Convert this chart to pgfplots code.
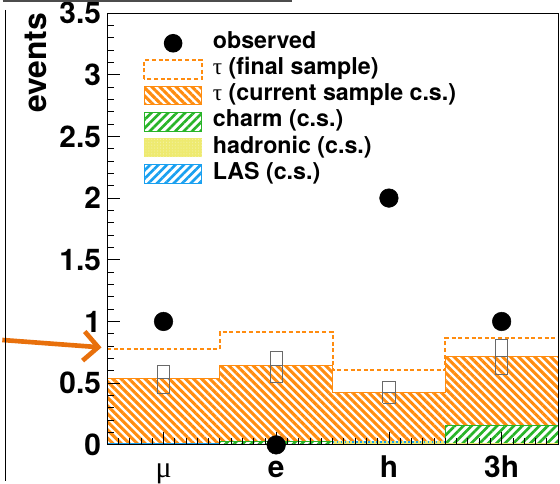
\documentclass[border=0pt]{standalone}
\usepackage{pgfplots}
\pgfplotsset{compat=1.18}
\usepackage{fontspec}
\setmainfont{TeX Gyre Heros}
\newfontfamily\greek{Liberation Serif}
\usetikzlibrary{patterns.meta,arrows.meta}
\definecolor{orC}{RGB}{255,140,15}
\definecolor{grC}{RGB}{40,180,40}
\definecolor{yeC}{RGB}{238,234,112}
\definecolor{blC}{RGB}{25,160,240}
\definecolor{arC}{RGB}{232,112,12}
\definecolor{bxC}{RGB}{105,105,105}
\tikzset{
  orhatch/.style={pattern={Lines[angle=-45,distance=4.3pt,line width=2.3pt]},pattern color=orC},
  grhatch/.style={pattern={Lines[angle=45,distance=4.5pt,line width=2pt]},pattern color=grC},
  blhatch/.style={pattern={Lines[angle=45,distance=4.5pt,line width=2pt]},pattern color=blC},
}
\begin{document}
\begin{tikzpicture}
\begin{axis}[
  scale only axis, width=339.75pt, height=325.5pt,
  xmin=0, xmax=4, ymin=0, ymax=3.5,
  clip=false, axis on top,
  axis line style={black, line width=0.6pt},
  tick align=inside, xtick pos=bottom, ytick pos=left,
  xtick={0.5,1.5,2.5,3.5},
  xticklabels={{\greek\mdseries μ},e,h,3h},
  minor xtick={0.1,0.2,...,3.95},
  ytick={0,0.5,...,3.5},
  minor ytick={0.1,0.2,...,3.45},
  major tick length=9.75pt, minor tick length=5.25pt,
  every tick/.style={black, line width=0.6pt},
  /pgf/number format/assume math mode=true,
  ticklabel style={font=\fontsize{22.5}{24}\selectfont\bfseries},
  yticklabel style={anchor=east, inner sep=0pt, xshift=-4.5pt},
  xticklabel style={anchor=base, inner sep=0pt, yshift=-24.5pt},
  ylabel={events},
  ylabel style={font=\fontsize{24}{26}\selectfont\bfseries, at={(axis description cs:-0.159,1)}, anchor=east, inner sep=0pt},
  legend cell align=left,
  legend style={at={(axis description cs:0.0795,0.955)}, anchor=north west, draw=none, fill=none,
    inner sep=0pt, row sep=3.7pt, column sep=7.5pt,
    font=\fontsize{17.5}{19}\selectfont\bfseries,
    nodes={inner sep=0pt, text height=12pt, text depth=4pt}},
]
% legend entries
\addlegendimage{legend image code/.code={\path[draw=none,fill=none] (0,-7.1pt) rectangle (43.5pt,7.1pt); \path[draw=none,fill=black] (21.75pt,0) circle (7pt);}}
\addlegendentry{observed}
\addlegendimage{legend image code/.code={\path[draw=orC, fill=none, line width=1.5pt, dash pattern=on 3pt off 2pt] (0,-7.1pt) rectangle (43.5pt,7.1pt);}}
\addlegendentry{{\greek\mdseries τ} (final sample)}
\addlegendimage{legend image code/.code={\path[draw=none,fill=none,orhatch] (0,-7.1pt) rectangle (43.5pt,7.1pt); \path[draw=orC, fill=none, line width=0.75pt] (0,-7.1pt) rectangle (43.5pt,7.1pt);}}
\addlegendentry{{\greek\mdseries τ} (current sample c.s.)}
\addlegendimage{legend image code/.code={\path[draw=none,fill=none,grhatch] (0,-7.1pt) rectangle (43.5pt,7.1pt); \path[draw=grC, fill=none, line width=0.75pt] (0,-7.1pt) rectangle (43.5pt,7.1pt);}}
\addlegendentry{charm (c.s.)}
\addlegendimage{legend image code/.code={\path[draw=none,fill=yeC] (0,-7.1pt) rectangle (43.5pt,7.1pt); \path[draw=none,fill=none,pattern={Dots[distance=2.2pt,radius=0.35pt]}, pattern color=white!60!yeC] (0,-7.1pt) rectangle (43.5pt,7.1pt);}}
\addlegendentry{hadronic (c.s.)}
\addlegendimage{legend image code/.code={\path[draw=none,fill=none,blhatch] (0,-7.1pt) rectangle (43.5pt,7.1pt); \path[draw=blC, fill=none, line width=0.75pt] (0,-7.1pt) rectangle (43.5pt,7.1pt);}}
\addlegendentry{LAS (c.s.)}

% tau current sample (stack total)
\addplot[forget plot, const plot, draw=orC, line width=0.75pt, orhatch] coordinates {(0,0.535)(1,0.640)(2,0.427)(3,0.720)(4,0.720)} \closedcycle;
% charm (cumulative)
\addplot[forget plot, const plot, draw=none, fill=white] coordinates {(0,0.012)(1,0.028)(2,0.030)(3,0.155)(4,0.155)} \closedcycle;
\addplot[forget plot, const plot, draw=grC, line width=0.75pt, grhatch] coordinates {(0,0.012)(1,0.028)(2,0.030)(3,0.155)(4,0.155)} \closedcycle;
% hadronic (cumulative)
\addplot[forget plot, const plot, draw=yeC, line width=0.75pt, fill=yeC] coordinates {(0,0.010)(1,0.006)(2,0.026)(3,0.008)(4,0.008)} \closedcycle;
% LAS
\addplot[forget plot, const plot, draw=blC, line width=0.9pt, fill=white] coordinates {(0,0.008)(1,0.000)(2,0.000)(3,0.000)(4,0.000)} \closedcycle;
\addplot[forget plot, const plot, draw=blC, line width=0.9pt, dash pattern=on 1pt off 2pt] coordinates {(2,0.024)(3,0.024)};
% tau final sample
\addplot[forget plot, const plot, draw=orC, line width=1.5pt, dash pattern=on 3pt off 2pt] coordinates {(0,0.774)(1,0.914)(2,0.607)(3,0.863)(4,0.863)};
% uncertainty boxes
\addplot[forget plot, draw=bxC, line width=0.75pt, unbounded coords=jump] coordinates {(0.445,0.417)(0.555,0.417)(0.555,0.640)(0.445,0.640)(0.445,0.417)(0.445,nan)(0.445,0.535)(0.555,0.535)};
\addplot[forget plot, draw=bxC, line width=0.75pt, unbounded coords=jump] coordinates {(1.445,0.505)(1.555,0.505)(1.555,0.760)(1.445,0.760)(1.445,0.505)(1.445,nan)(1.445,0.640)(1.555,0.640)};
\addplot[forget plot, draw=bxC, line width=0.75pt, unbounded coords=jump] coordinates {(2.445,0.336)(2.555,0.336)(2.555,0.514)(2.445,0.514)(2.445,0.336)(2.445,nan)(2.445,0.427)(2.555,0.427)};
\addplot[forget plot, draw=bxC, line width=0.75pt, unbounded coords=jump] coordinates {(3.445,0.567)(3.555,0.567)(3.555,0.857)(3.445,0.857)(3.445,0.567)(3.445,nan)(3.445,0.720)(3.555,0.720)};
% observed
\addplot[forget plot, only marks, mark=*, mark size=7pt, black] coordinates {(0.5,1)(1.5,0)(2.5,2)(3.5,1)};
% annotation arrow
\draw[arC, line width=3.5pt, -{Straight Barb[length=11pt,width=22pt,line width=3.5pt]}] (axis cs:-0.93,0.85) -- (axis cs:-0.05,0.79);
\end{axis}
% screenshot frame lines
\draw[black!70, line width=1.5pt] (-78.75pt,334.5pt) -- (139pt,334.5pt);
\draw[black, line width=1.2pt] (-76.5pt,327.75pt) -- (-76.5pt,-27pt);
\path[use as bounding box] (-78.75pt,-26.25pt) rectangle (341.25pt,335.25pt);
\end{tikzpicture}
\end{document}
